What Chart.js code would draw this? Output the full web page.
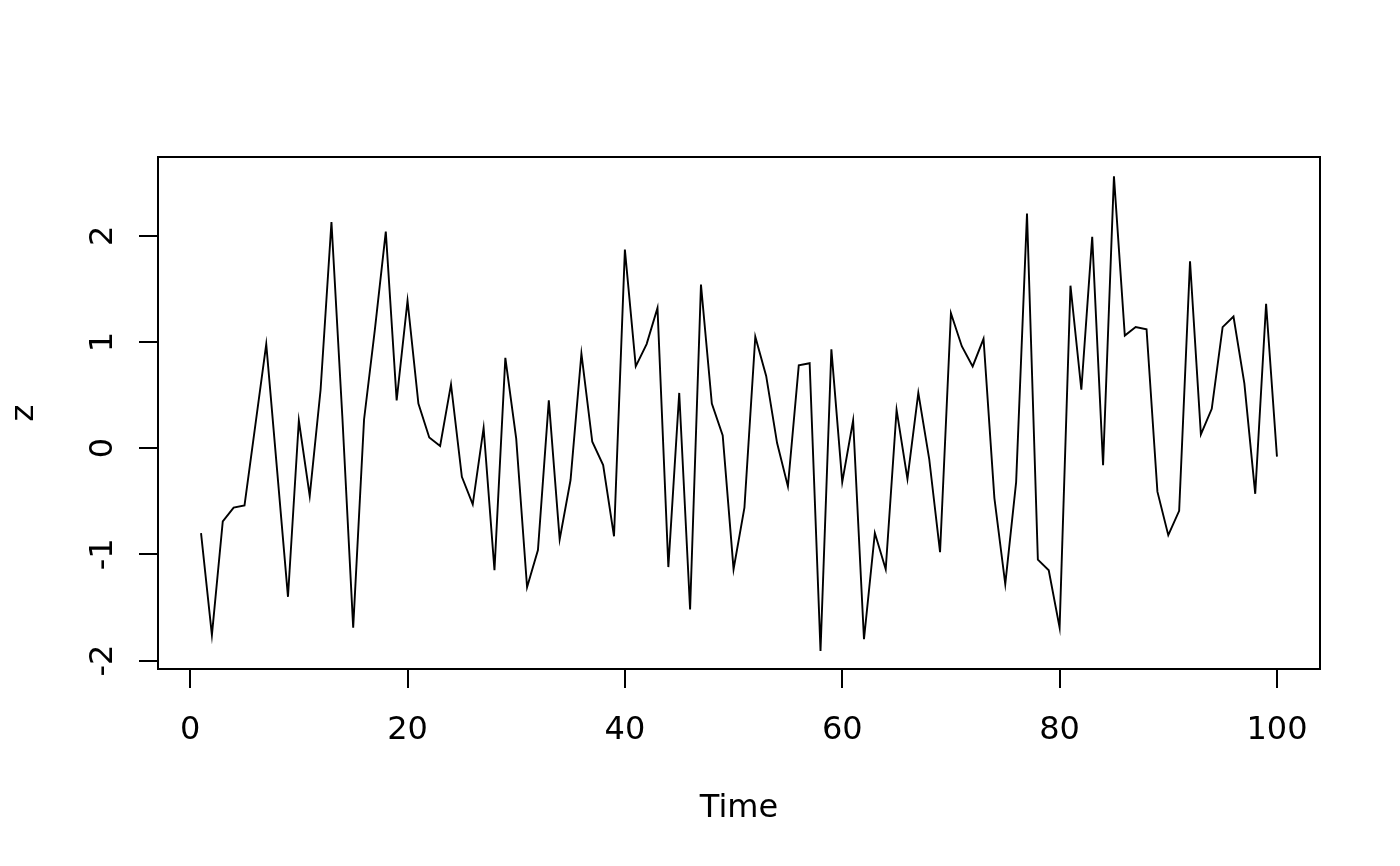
<!DOCTYPE html>
<html>
<head>
<meta charset="utf-8">
<script src="https://cdn.jsdelivr.net/npm/chart.js@4"></script>
<style>
  body { margin: 0; background: #fff; }
  canvas { display: block; }
</style>
</head>
<body>
<canvas id="tsChart" width="1400" height="866"></canvas>
<script>
// series z (t = 1..100)
var z = [
  -0.80, -1.76, -0.69, -0.56, -0.54, 0.22, 0.98, -0.21, -1.40, 0.26,
  -0.45, 0.55, 2.13, 0.30, -1.69, 0.27, 1.12, 2.04, 0.45, 1.39,
  0.42, 0.10, 0.02, 0.60, -0.27, -0.53, 0.19, -1.15, 0.85, 0.09,
  -1.31, -0.96, 0.45, -0.86, -0.30, 0.89, 0.06, -0.16, -0.83, 1.87,
  0.77, 0.98, 1.32, -1.12, 0.52, -1.52, 1.54, 0.42, 0.12, -1.14,
  -0.56, 1.05, 0.68, 0.05, -0.36, 0.78, 0.80, -1.91, 0.93, -0.32,
  0.26, -1.80, -0.80, -1.14, 0.36, -0.29, 0.52, -0.10, -0.98, 1.27,
  0.96, 0.77, 1.03, -0.47, -1.28, -0.32, 2.21, -1.05, -1.15, -1.69,
  1.53, 0.55, 1.99, -0.16, 2.56, 1.06, 1.14, 1.12, -0.41, -0.82,
  -0.59, 1.76, 0.13, 0.37, 1.14, 1.24, 0.61, -0.43, 1.36, -0.08
];
var time = z.map(function (v, i) { return i + 1; });
var xTicks = [0, 20, 40, 60, 80, 100];
var yTicks = [-2, -1, 0, 1, 2];
var xTitle = 'Time';
var yTitle = 'z';

var points = time.map(function (t, i) { return { x: t, y: z[i] }; });

var FONT = '32px "DejaVu Sans", sans-serif';

// R style box + outward ticks, drawn from the chart's scales
var rAxes = {
    id: 'rAxes',
    afterDraw: function (chart) {
        var ctx = chart.ctx;
        var area = chart.chartArea;
        var xs = chart.scales.x, ys = chart.scales.y;
        var tick = 19;
        ctx.save();
        ctx.strokeStyle = '#000';
        ctx.fillStyle = '#000';
        ctx.lineWidth = 2;
        ctx.strokeRect(area.left, area.top, area.right - area.left, area.bottom - area.top);

        ctx.font = FONT;
        ctx.textAlign = 'center';
        ctx.textBaseline = 'alphabetic';
        ctx.beginPath();
        xTicks.forEach(function (v) {
            var px = Math.round(xs.getPixelForValue(v));
            ctx.moveTo(px, area.bottom);
            ctx.lineTo(px, area.bottom + tick);
        });
        yTicks.forEach(function (v) {
            var py = Math.round(ys.getPixelForValue(v));
            ctx.moveTo(area.left, py);
            ctx.lineTo(area.left - tick, py);
        });
        ctx.stroke();

        xTicks.forEach(function (v) {
            ctx.fillText(String(v), xs.getPixelForValue(v), area.bottom + 70);
        });
        yTicks.forEach(function (v) {
            ctx.save();
            ctx.translate(area.left - 46, ys.getPixelForValue(v));
            ctx.rotate(-Math.PI / 2);
            ctx.fillText(String(v), 0, 0);
            ctx.restore();
        });

        ctx.fillText(xTitle, (area.left + area.right) / 2, area.bottom + 148);
        ctx.save();
        ctx.translate(33, (area.top + area.bottom) / 2);
        ctx.rotate(-Math.PI / 2);
        ctx.fillText(yTitle, 0, 0);
        ctx.restore();
        ctx.restore();
    }
};

var ctx = document.getElementById('tsChart').getContext('2d');
var tsChart = new Chart(ctx, {
    type: 'line',
    data: {
        datasets: [{
            data: points,
            borderColor: '#000',
            borderWidth: 1.9,
            pointRadius: 0,
            tension: 0,
            fill: false
        }]
    },
    options: {
        responsive: false,
        devicePixelRatio: 1,
        animation: false,
        layout: {
            padding: { left: 158, top: 157, right: 80, bottom: 197 }
        },
        plugins: {
            legend: { display: false },
            tooltip: { enabled: false }
        },
        scales: {
            x: { type: 'linear', display: false, min: -2.96, max: 103.96 },
            y: { type: 'linear', display: false, min: -2.08, max: 2.742 }
        }
    },
    plugins: [rAxes]
});
</script>
</body>
</html>
